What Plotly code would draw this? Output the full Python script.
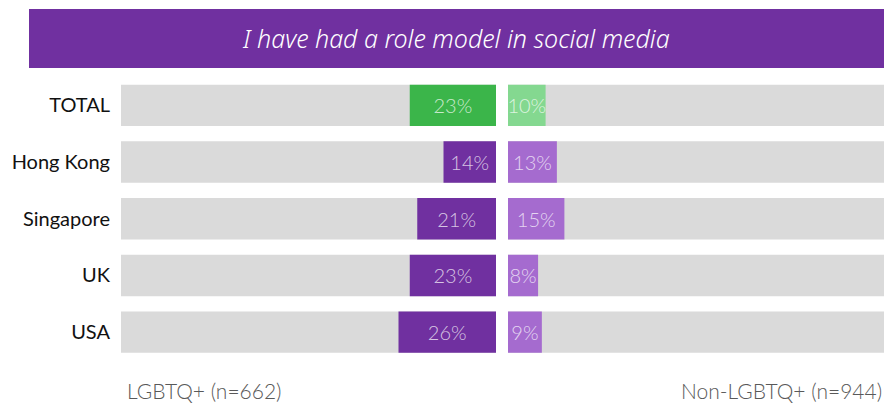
import plotly.graph_objects as go

# Survey results: share who say they have had a role model in social media
categories = ["TOTAL", "Hong Kong", "Singapore", "UK", "USA"]
lgbtq_values = [0.23, 0.14, 0.21, 0.23, 0.26]
non_lgbtq_values = [0.10, 0.13, 0.15, 0.08, 0.09]
title_text = "I have had a role model in social media"
left_label = "LGBTQ+ (n=662)"
right_label = "Non-LGBTQ+ (n=944)"

W, H = 891, 404
PURPLE = "#7030A0"
LIGHT_PURPLE = "#A56BCF"
GREEN = "#3BB54A"
LIGHT_GREEN = "#84D890"
GREY = "#DADADA"
LABEL_FONT = "Lato"

left_colors = [GREEN] + [PURPLE] * (len(categories) - 1)
right_colors = [LIGHT_GREEN] + [LIGHT_PURPLE] * (len(categories) - 1)
bar_w = 0.73
text_font = dict(family=LABEL_FONT, size=20, color="rgba(255,255,255,0.72)", weight=300)

fig = go.Figure()

# Left panel: grey track plus LGBTQ+ share, growing leftward
fig.add_trace(go.Bar(y=categories, x=[1] * len(categories), orientation="h",
                     marker=dict(color=GREY, line_width=0), width=bar_w,
                     hoverinfo="skip", xaxis="x", yaxis="y"))
fig.add_trace(go.Bar(y=categories, x=lgbtq_values, orientation="h",
                     marker=dict(color=left_colors, line_width=0), width=bar_w,
                     text=[f"{v:.0%}" for v in lgbtq_values], textposition="inside",
                     insidetextanchor="middle", textfont=text_font, textangle=0,
                     constraintext="none", xaxis="x", yaxis="y"))

# Right panel: grey track plus non-LGBTQ+ share
fig.add_trace(go.Bar(y=categories, x=[1] * len(categories), orientation="h",
                     marker=dict(color=GREY, line_width=0), width=bar_w,
                     hoverinfo="skip", xaxis="x2", yaxis="y2"))
fig.add_trace(go.Bar(y=categories, x=non_lgbtq_values, orientation="h",
                     marker=dict(color=right_colors, line_width=0), width=bar_w,
                     text=[f"{v:.0%}" for v in non_lgbtq_values], textposition="inside",
                     insidetextanchor="middle", textfont=text_font, textangle=0,
                     constraintext="none", xaxis="x2", yaxis="y2"))

y_dom = [1 - 360.5 / H, 1 - 77.0 / H]
fig.update_layout(
    width=W, height=H,
    margin=dict(l=0, r=0, t=0, b=0),
    paper_bgcolor="white", plot_bgcolor="white",
    showlegend=False, barmode="overlay",
    uniformtext=dict(minsize=20, mode="show"),
    xaxis=dict(domain=[121 / W, 496 / W], range=[1, 0], visible=False, fixedrange=True),
    xaxis2=dict(domain=[508 / W, 884 / W], range=[0, 1], visible=False, fixedrange=True),
    yaxis=dict(domain=y_dom, anchor="x", type="category", categoryorder="array",
               categoryarray=categories, range=[len(categories) - 0.5, -0.5],
               showgrid=False, zeroline=False, showline=False, ticks="",
               ticklabelstandoff=10,
               tickfont=dict(family=LABEL_FONT, size=20, color="#111111", weight=400)),
    yaxis2=dict(domain=y_dom, anchor="x2", type="category", categoryorder="array",
                categoryarray=categories, range=[len(categories) - 0.5, -0.5],
                showticklabels=False, showgrid=False, zeroline=False, showline=False),
    shapes=[dict(type="rect", xref="paper", yref="paper",
                 x0=29 / W, x1=884 / W, y0=1 - 68 / H, y1=1 - 9 / H,
                 fillcolor=PURPLE, line_width=0, layer="below")],
    annotations=[
        dict(text=f"<i>{title_text}</i>", xref="paper", yref="paper",
             x=456 / W, y=1 - 38.5 / H, xanchor="center", yanchor="middle",
             showarrow=False,
             font=dict(family="Noto Sans", size=25, color="white", weight=300)),
        dict(text=left_label, xref="paper", yref="paper",
             x=125 / W, y=1 - 390 / H, xanchor="left", yanchor="middle",
             showarrow=False,
             font=dict(family=LABEL_FONT, size=21, color="#595959", weight=300)),
        dict(text=right_label, xref="paper", yref="paper",
             x=884 / W, y=1 - 390 / H, xanchor="right", yanchor="middle",
             showarrow=False,
             font=dict(family=LABEL_FONT, size=21, color="#595959", weight=300)),
    ],
)

fig.write_html("out.html")
